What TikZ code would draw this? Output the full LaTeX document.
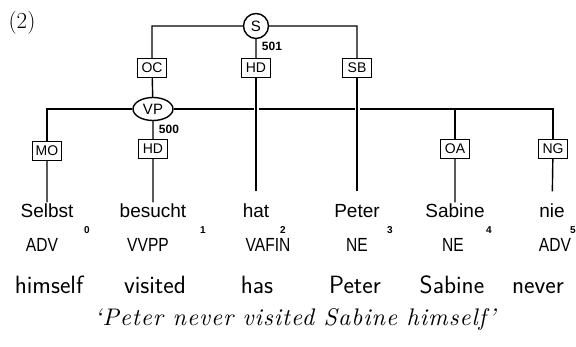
\documentclass[tikz,border=0pt]{standalone}
\usepackage{fontspec}
\newfontfamily\helv{Liberation Sans}
\newfontfamily\helvn[FakeStretch=0.82]{Liberation Sans}
\newfontfamily\transfont[LetterSpace=4]{lmroman10-italic.otf}
\usetikzlibrary{shapes.geometric}
\newcommand\fsz[1]{\fontsize{#1}{#1}\selectfont}

\begin{document}
\begin{tikzpicture}[x=1pt,y=-1pt,line width=1.4pt,
  edgelab/.style={draw,rectangle,minimum width=29pt,minimum height=19pt,inner sep=1pt,fill=white,font=\helv\fsz{14}},
  cat/.style={draw,font=\helv\fsz{15},inner sep=1pt},
  word/.style={anchor=base,font=\helv\fsz{19},text height=13pt,text depth=4pt,inner sep=2pt},
  tag/.style={anchor=base,font=\helvn\fsz{19}},
  idx/.style={font=\helv\bfseries\fsz{10}},
  num/.style={font=\helv\bfseries\fsz{12},inner sep=0pt},
  gloss/.style={anchor=base,font=\sffamily\fsz{25}},
  cross/.style={preaction={draw=white,line width=5pt}}]
\useasboundingbox (0,0) rectangle (576,347);

\node[font=\fsz{23}] (ex) at (22,23) {(2)};

% nonterminals
\node[cat,circle,minimum size=25pt] (S) at (256,26) {S};
\node[cat,ellipse,minimum width=40pt,minimum height=23pt] (VP) at (153,109) {VP};
\node[num] (n501) at (272,46) {501};
\node[num] (n500) at (169,129) {500};

% terminals
\node[word] (w0) at (47,218) {Selbst};
\node[word] (w1) at (153,218) {besucht};
\node[word] (w2) at (256,218) {hat};
\node[word] (w3) at (357,218) {Peter};
\node[word] (w4) at (455,218) {Sabine};
\node[word] (w5) at (552,218) {nie};

\node[idx] (i0) at (87,230) {0};
\node[idx] (i1) at (203,230) {1};
\node[idx] (i2) at (283,230) {2};
\node[idx] (i3) at (390,230) {3};
\node[idx] (i4) at (489,230) {4};
\node[idx] (i5) at (573,230) {5};

\node[tag] (t0) at (42,252) {ADV};
\node[tag] (t1) at (148,252) {VVPP};
\node[tag] (t2) at (268,252) {VAFIN};
\node[tag] (t3) at (357,252) {NE};
\node[tag] (t4) at (453,252) {NE};
\node[tag] (t5) at (555,252) {ADV};

\node[gloss] (g0) at (49,294) {himself};
\node[gloss] (g1) at (155,294) {visited};
\node[gloss] (g2) at (257,294) {has};
\node[gloss] (g3) at (355,294) {Peter};
\node[gloss] (g4) at (452,294) {Sabine};
\node[gloss] (g5) at (538,294) {never};

\node[font=\transfont\fsz{24}] (tr) at (295,320) {‘Peter never visited Sabine himself’};

% edge labels
\node[edgelab] (oc) at (152,68) {OC};
\node[edgelab] (hd1) at (256,68) {HD};
\node[edgelab] (sb) at (357,68) {SB};
\node[edgelab] (mo) at (47,151) {MO};
\node[edgelab] (hd2) at (153,149) {HD};
\node[edgelab] (oa) at (455,149) {OA};
\node[edgelab] (ng) at (553,149) {NG};

% edges
\draw (S) -| (oc) (S) -| (sb) (oc) -- (VP) (VP) -- (hd2) (S) -- (hd1);
\draw (VP) -| (mo) (VP) -| (ng) (VP) -| (oa);
\draw[shorten >=11pt] (mo) -- (w0) (hd2) -- (w1) (oa) -- (w4) (ng) -- (w5);
\draw[cross,shorten >=11pt] (hd1) -- (w2);
\draw[cross,shorten >=11pt] (sb) -- (w3);
\end{tikzpicture}
\end{document}
